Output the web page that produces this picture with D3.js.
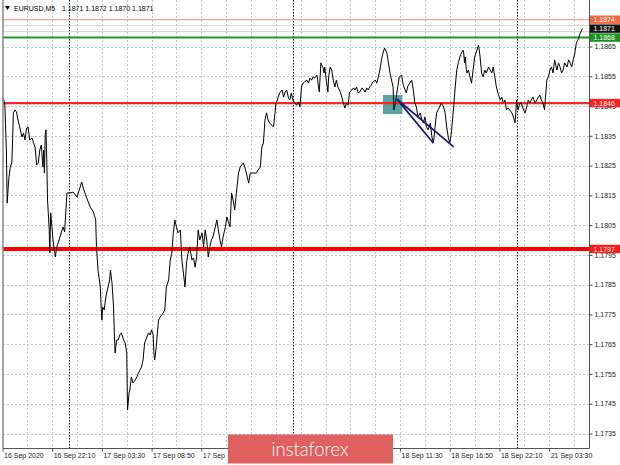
<!DOCTYPE html>
<html><head><meta charset="utf-8">
<script src="https://cdn.jsdelivr.net/npm/d3@7"></script>
<style>body{margin:0;background:#fff}svg{display:block}</style>
</head><body>
<svg id="c" width="620" height="465"></svg>
<script>
// ---- data (bar index, close) ----
const closeSeries = [
[1,1.18477],[3,1.18457],[5,1.18302],[6,1.18124],[8,1.18202],[10,1.18245],[12,1.18259],[13,1.18336],[14,1.18427],[16,1.18437],
[18,1.18430],[20,1.18403],[23,1.18370],[25,1.18346],[27,1.18359],[29,1.18336],[31,1.18376],[33,1.18380],[35,1.18336],[38,1.18343],
[40,1.18326],[42,1.18312],[44,1.18252],[46,1.18259],[48,1.18302],[50,1.18319],[52,1.18245],[53,1.18302],[54,1.18225],[55,1.18353],
[56,1.18370],[57,1.18269],[58,1.18134],[60,1.18044],[61,1.17956],[62,1.18091],[64,1.18034],[65,1.18000],[68,1.17943],[70,1.17977],
[72,1.17993],[74,1.18010],[78,1.18044],[80,1.18027],[83,1.18158],[87,1.18158],[91,1.18161],[96,1.18144],[100,1.18178],[102,1.18195],
[104,1.18175],[108,1.18144],[113,1.18111],[117,1.18094],[119,1.18077],[120,1.18067],[121,1.17977],[123,1.17899],[126,1.17842],[127,1.17775],
[128,1.17731],[129,1.17775],[131,1.17765],[132,1.17788],[134,1.17822],[136,1.17842],[138,1.17866],[139,1.17899],[141,1.17856],[143,1.17775],
[144,1.17688],[145,1.17620],[147,1.17664],[149,1.17664],[151,1.17681],[153,1.17688],[156,1.17664],[158,1.17654],[160,1.17620],[161,1.17429],
[163,1.17486],[164,1.17496],[166,1.17540],[168,1.17520],[171,1.17530],[173,1.17540],[175,1.17553],[177,1.17563],[179,1.17573],[181,1.17597],
[183,1.17654],[186,1.17674],[188,1.17688],[190,1.17681],[192,1.17698],[194,1.17681],[195,1.17620],[196,1.17597],[198,1.17641],[199,1.17674],
[201,1.17731],[203,1.17741],[205,1.17748],[207,1.17755],[209,1.17765],[211,1.17842],[214,1.17866],[216,1.17933],[218,1.17956],[220,1.18024],
[222,1.18067],[224,1.18044],[226,1.18024],[229,1.18034],[231,1.17933],[233,1.17889],[235,1.17842],[237,1.17923],[239,1.17956],[241,1.17977],
[244,1.17933],[246,1.17940],[248,1.17909],[250,1.17943],[252,1.18034],[254,1.18000],[257,1.18024],[259,1.17977],[261,1.18034],[263,1.18000],
[265,1.17943],[267,1.17977],[269,1.18000],[271,1.18010],[274,1.18044],[276,1.18067],[278,1.18034],[280,1.18000],[282,1.17977],[284,1.18010],
[287,1.18044],[289,1.18077],[293,1.18044],[295,1.18158],[297,1.18134],[299,1.18101],[302,1.18178],[304,1.18225],[306,1.18245],[308,1.18252],
[310,1.18259],[312,1.18245],[314,1.18225],[317,1.18191],[319,1.18225],[323,1.18225],[327,1.18225],[329,1.18235],[332,1.18245],[334,1.18312],
[336,1.18326],[338,1.18403],[340,1.18427],[342,1.18403],[344,1.18393],[349,1.18380],[351,1.18427],[352,1.18460],[354,1.18470],[355,1.18480],
[357,1.18494],[360,1.18504],[362,1.18480],[364,1.18497],[366,1.18504],[368,1.18480],[370,1.18470],[372,1.18494],[374,1.18470],[376,1.18460],
[379,1.18453],[381,1.18464],[383,1.18447],[385,1.18514],[387,1.18527],[389,1.18531],[392,1.18537],[394,1.18527],[396,1.18544],[398,1.18537],
[400,1.18548],[402,1.18544],[405,1.18554],[407,1.18514],[408,1.18497],[410,1.18595],[411,1.18588],[413,1.18578],[414,1.18561],[415,1.18581],
[417,1.18537],[419,1.18497],[420,1.18548],[422,1.18581],[424,1.18571],[426,1.18537],[428,1.18514],[430,1.18537],[432,1.18514],[435,1.18497],
[437,1.18480],[439,1.18460],[441,1.18443],[443,1.18460],[445,1.18453],[447,1.18497],[450,1.18504],[452,1.18511],[454,1.18504],[456,1.18514],
[458,1.18494],[460,1.18497],[463,1.18511],[465,1.18504],[467,1.18497],[469,1.18511],[471,1.18504],[473,1.18514],[475,1.18521],[477,1.18531],
[480,1.18537],[482,1.18527],[484,1.18548],[486,1.18571],[488,1.18605],[490,1.18628],[492,1.18645],[495,1.18628],[497,1.18595],[499,1.18561],
[501,1.18537],[503,1.18514],[504,1.18437],[506,1.18460],[507,1.18480],[509,1.18514],[511,1.18548],[514,1.18554],[516,1.18521],[520,1.18494],
[522,1.18517],[527,1.18537],[529,1.18504],[531,1.18460],[533,1.18447],[535,1.18413],[538,1.18427],[540,1.18403],[542,1.18393],[544,1.18413],
[546,1.18380],[548,1.18370],[551,1.18393],[553,1.18346],[555,1.18326],[557,1.18380],[559,1.18427],[561,1.18437],[563,1.18447],[565,1.18460],
[568,1.18447],[570,1.18427],[572,1.18380],[574,1.18346],[576,1.18326],[578,1.18359],[581,1.18447],[583,1.18514],[585,1.18571],[587,1.18595],
[589,1.18615],[591,1.18628],[593,1.18638],[594,1.18628],[595,1.18595],[596,1.18615],[597,1.18581],[598,1.18561],[600,1.18571],[602,1.18548],
[604,1.18527],[606,1.18571],[608,1.18615],[611,1.18638],[613,1.18655],[614,1.18638],[615,1.18615],[617,1.18561],[619,1.18548],[621,1.18571],
[623,1.18561],[626,1.18581],[628,1.18571],[630,1.18561],[632,1.18581],[634,1.18548],[636,1.18514],[638,1.18494],[641,1.18470],[643,1.18480],
[645,1.18460],[647,1.18470],[649,1.18437],[651,1.18443],[653,1.18437],[656,1.18427],[658,1.18413],[660,1.18393],[661,1.18427],[662,1.18470],
[664,1.18437],[666,1.18460],[668,1.18460],[671,1.18437],[673,1.18427],[675,1.18447],[677,1.18470],[679,1.18460],[681,1.18470],[683,1.18480],
[686,1.18460],[688,1.18470],[690,1.18480],[692,1.18487],[694,1.18470],[696,1.18460],[698,1.18437],[699,1.18470],[701,1.18537],[703,1.18548],
[705,1.18571],[707,1.18581],[709,1.18561],[711,1.18605],[714,1.18571],[716,1.18595],[718,1.18581],[720,1.18561],[722,1.18571],[724,1.18595],
[727,1.18581],[729,1.18605],[731,1.18595],[733,1.18581],[735,1.18605],[737,1.18628],[739,1.18662],[741,1.18672],[744,1.18695],[746,1.18705],
[747,1.18710]
];
const xTickBars = [0,64,128,192,256,320,384,448,512,576,640,704];
const xTickLabels = ["16 Sep 2020","16 Sep 22:10","17 Sep 03:30","17 Sep 08:50","17 Sep 14:10","17 Sep 19:30",
                     "18 Sep 00:50","18 Sep 06:10","18 Sep 11:30","18 Sep 16:50","18 Sep 22:10","21 Sep 03:30"];
const yTicks = [1.1735,1.1745,1.1755,1.1765,1.1775,1.1785,1.1795,1.1805,1.1815,1.1825,1.1835,1.1845,1.1855,1.1865];
const daySeparatorBars = [86, 374, 662];
const levelPrices = [1.1874, 1.1868, 1.1846, 1.1797];
const bidAskPrices = [1.1872, 1.1870];
const lastPrice = 1.1871;
const zoneBars = [490, 515];
const zonePrices = [1.18423, 1.18487];
const trendStart = [508, 1.18473];
const trendEnds = [[555, 1.18325], [581, 1.18313]];
const titleSymbol = "EURUSD,M5";
const titleOHLC = ["1.1871","1.1872","1.1870","1.1871"];

// ---- drawing ----
const W = 620, H = 465;
const P = {l:3, r:589, t:0, b:448};
const LOGO = {x:228, y:434.5, w:165, h:29};
const svg = d3.select("#c");
const x = d3.scaleLinear().domain([0, 754]).range([2.5, 588]);
const y = d3.scaleLinear().domain([1.1735, 1.1865]).range([433.5, 46.5]);
const FONT = "'Liberation Sans', Arial, sans-serif";

svg.append("rect").attr("width", W).attr("height", H).attr("fill", "#fff");
const defs = svg.append("defs");
defs.append("clipPath").attr("id", "clip").append("rect")
  .attr("x", P.l).attr("y", P.t).attr("width", P.r - P.l).attr("height", P.b - P.t);
defs.append("clipPath").attr("id", "clipAxis").append("rect")
  .attr("x", 0).attr("y", P.b).attr("width", LOGO.x).attr("height", H - P.b);
const g = svg.append("g").attr("clip-path", "url(#clip)");

// grid
g.selectAll(".hg").data(yTicks).join("line")
  .attr("x1", P.l).attr("x2", P.r)
  .attr("y1", d => Math.round(y(d)) + 0.5).attr("y2", d => Math.round(y(d)) + 0.5)
  .attr("stroke", "#c4c4c4").attr("stroke-width", 1).attr("stroke-dasharray", "2,2");
g.selectAll(".vg").data(d3.range(32, 754, 32)).join("line")
  .attr("x1", d => Math.round(x(d)) + 0.5).attr("x2", d => Math.round(x(d)) + 0.5)
  .attr("y1", P.t).attr("y2", P.b)
  .attr("stroke", "#c4c4c4").attr("stroke-width", 1).attr("stroke-dasharray", "2,2");

// day separators
g.selectAll(".ds").data(daySeparatorBars).join("line")
  .attr("x1", d => Math.round(x(d)) + 0.5).attr("x2", d => Math.round(x(d)) + 0.5)
  .attr("y1", P.t).attr("y2", P.b)
  .attr("stroke", "#111").attr("stroke-width", 1).attr("stroke-dasharray", "1.5,1.5");

// zone rectangle
g.append("rect")
  .attr("x", x(zoneBars[0])).attr("width", x(zoneBars[1]) - x(zoneBars[0]))
  .attr("y", y(zonePrices[1])).attr("height", y(zonePrices[0]) - y(zonePrices[1]))
  .attr("fill", "#3f9494").attr("opacity", 0.85);

// bid / ask lines
g.selectAll(".ba").data(bidAskPrices).join("line")
  .attr("x1", P.l).attr("x2", P.r)
  .attr("y1", d => y(d)).attr("y2", d => y(d))
  .attr("stroke", "#d4d4d4").attr("stroke-width", 1);

// level lines
const levelStyle = [
  {stroke:"#f8a08c", w:1.2, tag:"#f36a3e"},
  {stroke:"#1e9a1e", w:2, tag:"#1a921a"},
  {stroke:"#ff2424", w:2.2, tag:"#ff2020"},
  {stroke:"#ff0000", w:4, tag:"#ff1a1a"}
];
g.selectAll(".lv").data(levelPrices).join("line")
  .attr("x1", P.l).attr("x2", P.r)
  .attr("y1", d => y(d)).attr("y2", d => y(d))
  .attr("stroke", (d,i) => levelStyle[i].stroke).attr("stroke-width", (d,i) => levelStyle[i].w);

// price line
g.append("path").datum(closeSeries)
  .attr("d", d3.line().x(d => x(d[0])).y(d => y(d[1])))
  .attr("fill", "none").attr("stroke", "#000").attr("stroke-width", 1);

// trend lines
g.selectAll(".tl").data(trendEnds).join("line")
  .attr("x1", x(trendStart[0])).attr("y1", y(trendStart[1]))
  .attr("x2", d => x(d[0])).attr("y2", d => y(d[1]))
  .attr("stroke", "#1c1c7e").attr("stroke-width", 1.8);

// frame
svg.append("line").attr("x1", P.l).attr("x2", P.l).attr("y1", 0).attr("y2", P.b)
  .attr("stroke", "#8a8a8a").attr("stroke-width", 1.5);
svg.append("line").attr("x1", P.r + 0.5).attr("x2", P.r + 0.5).attr("y1", 0).attr("y2", P.b + 0.5)
  .attr("stroke", "#555").attr("stroke-width", 1);
svg.append("line").attr("x1", P.l).attr("x2", P.r + 0.5).attr("y1", P.b + 0.5).attr("y2", P.b + 0.5)
  .attr("stroke", "#555").attr("stroke-width", 1);

// right axis
const ya = svg.append("g").attr("transform", `translate(${P.r + 0.5},0)`)
  .call(d3.axisRight(y).tickValues(yTicks).tickSize(3).tickPadding(2).tickFormat(d3.format(".4f")));
ya.select(".domain").remove();
ya.selectAll("line").attr("stroke", "#444");
ya.selectAll("text").attr("font-family", FONT).attr("font-size", 7).attr("fill", "#222");

// bottom axis
const xa = svg.append("g").attr("transform", `translate(0,${P.b + 0.5})`)
  .call(d3.axisBottom(x).tickValues(xTickBars).tickSize(3).tickPadding(2).tickFormat((d,i) => xTickLabels[i]));
xa.select(".domain").remove();
xa.selectAll("line").attr("stroke", "#444");
xa.selectAll("text").attr("font-family", FONT).attr("font-size", 7).attr("fill", "#222")
  .attr("text-anchor", "start").attr("x", 1);
// labels that sit under the watermark: hide fully covered ones, clip the partly covered one
xa.selectAll(".tick").each(function(d) {
  const px = x(d);
  const t = d3.select(this).select("text");
  if (px >= LOGO.x - 2 && px <= LOGO.x + LOGO.w) t.remove();
  else if (px < LOGO.x && px + 40 > LOGO.x) {
    t.text(t.text().split(" ").slice(0, 2).join(" "));
  }
});

// price tags
const tags = [
  {p: levelPrices[0], c: levelStyle[0].tag},
  {p: lastPrice, c: "#111"},
  {p: levelPrices[1], c: levelStyle[1].tag},
  {p: levelPrices[2], c: levelStyle[2].tag},
  {p: levelPrices[3], c: levelStyle[3].tag}
];
const tg = svg.selectAll(".tag").data(tags).join("g");
tg.append("rect").attr("x", P.r + 1).attr("y", d => y(d.p) - 4.2).attr("width", 30).attr("height", 8.4)
  .attr("fill", d => d.c);
tg.append("text").attr("x", P.r + 4.5).attr("y", d => y(d.p) + 2.6)
  .attr("font-family", FONT).attr("font-size", 7).attr("fill", "#fff")
  .text(d => d3.format(".4f")(d.p));

// title
svg.append("path").attr("d", "M5,6 L10,6 L7.5,10 Z").attr("fill", "#000");
svg.append("text").attr("x", 14).attr("y", 11).attr("font-family", FONT).attr("font-size", 7).attr("fill", "#000")
  .text(titleSymbol);
svg.append("text").attr("x", 62).attr("y", 11).attr("font-family", FONT).attr("font-size", 7).attr("fill", "#000")
  .text(titleOHLC.join(" "));

// watermark logo
svg.append("rect").attr("x", LOGO.x).attr("y", LOGO.y).attr("width", LOGO.w).attr("height", LOGO.h).attr("fill", "#e0605f");
svg.append("text").attr("x", LOGO.x + 82).attr("y", 455.5).attr("text-anchor", "middle")
  .attr("font-family", "Lato, 'Open Sans', sans-serif").attr("font-weight", 300).attr("font-size", 20)
  .attr("fill", "#fff").attr("textLength", 77).attr("lengthAdjust", "spacingAndGlyphs")
  .text("instaforex");
</script>
</body></html>
